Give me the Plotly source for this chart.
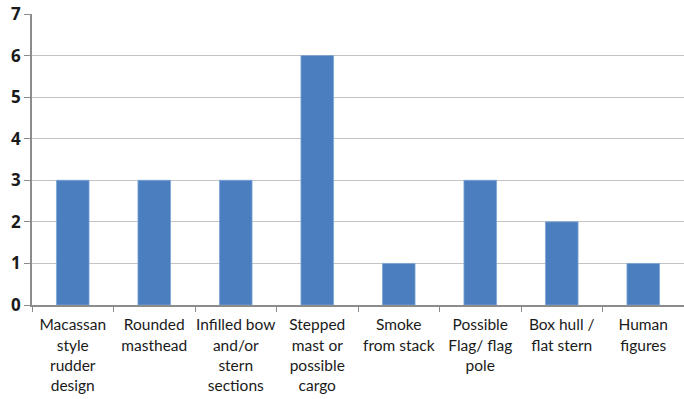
import plotly.graph_objects as go

categories = [
    "Macassan<br>style<br>rudder<br>design",
    "Rounded<br>masthead",
    "Infilled bow<br>and/or<br>stern<br>sections",
    "Stepped<br>mast or<br>possible<br>cargo",
    "Smoke<br>from stack",
    "Possible<br>Flag/ flag<br>pole",
    "Box hull /<br>flat stern",
    "Human<br>figures",
]
counts = [3, 3, 3, 6, 1, 3, 2, 1]
y_ticks = [0, 1, 2, 3, 4, 5, 6, 7]

fig = go.Figure(
    go.Bar(
        x=categories,
        y=counts,
        marker=dict(color="#4A7EBE", line=dict(color="#7FA6D6", width=0.8)),
        width=0.4,
    )
)

fig.update_layout(
    width=684,
    height=399,
    margin=dict(l=32, r=0, t=14, b=94, autoexpand=False),
    paper_bgcolor="white",
    plot_bgcolor="white",
    font=dict(family="Lato, sans-serif", color="#1a1a1a"),
    showlegend=False,
)

fig.update_xaxes(
    showline=True,
    linecolor="#8c8c8c",
    linewidth=1.5,
    ticks="outside",
    tickson="boundaries",
    ticklen=5,
    tickcolor="#8c8c8c",
    tickangle=0,
    automargin=False,
    ticklabelstandoff=5,
    tickfont=dict(size=15.5, family="Lato, sans-serif", color="#1a1a1a"),
    showgrid=False,
)

fig.update_yaxes(
    range=[0, 7],
    tickvals=y_ticks,
    showline=True,
    linecolor="#8c8c8c",
    linewidth=1.5,
    ticks="outside",
    ticklen=6,
    tickcolor="#8c8c8c",
    showgrid=True,
    gridcolor="#c4c4c4",
    gridwidth=1,
    zeroline=False,
    automargin=False,
    tickfont=dict(size=17, family="Open Sans, sans-serif", color="#1a1a1a", weight="bold"),
)

fig.write_html("out.html")
